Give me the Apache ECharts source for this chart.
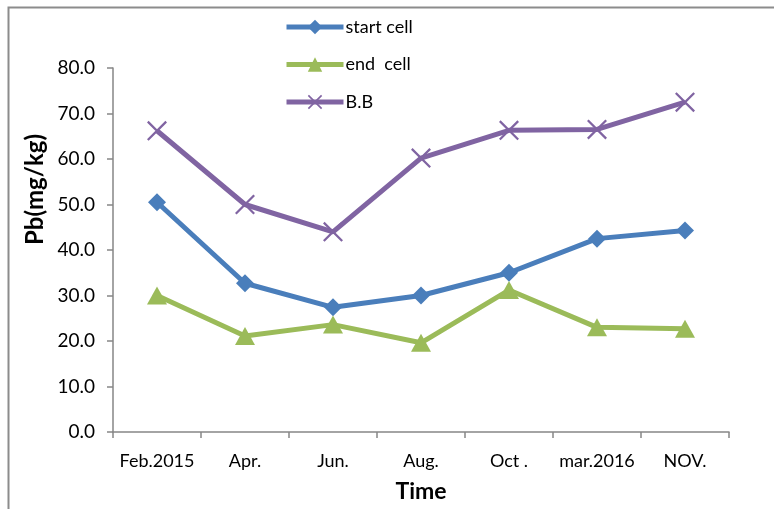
<!DOCTYPE html>
<html>
<head>
<meta charset="utf-8">
<script src="https://cdn.jsdelivr.net/npm/echarts@6/dist/echarts.min.js"></script>
<style>
  html, body { margin: 0; padding: 0; background: #fff; overflow: hidden; }
  #chart { width: 774px; height: 509px; }
</style>
</head>
<body>
<div id="chart"></div>
<script>
// Sampling months
const months = ['Feb.2015', 'Apr.', 'Jun.', 'Aug.', 'Oct .', 'mar.2016', 'NOV.'];

// Pb concentration (mg/kg) per sampling point
const startCell = [50.5, 32.7, 27.4, 30.0, 35.0, 42.5, 44.3];
const endCell   = [30.0, 21.1, 23.6, 19.6, 31.2, 23.0, 22.7];
const bb        = [66.2, 50.0, 44.0, 60.2, 66.3, 66.5, 72.5];

// Y axis range
const yMin = 0, yMax = 80, yStep = 10;

const FONT = 'Lato';
const AXIS_GREY = '#868686';

// Thin "x" cross marker
const crossPath = 'path://M0,0.8L0.8,0L10,9.2L9.2,10Z M9.2,0L10,0.8L0.8,10L0,9.2Z';

const chart = echarts.init(document.getElementById('chart'), null, { renderer: 'canvas' });

chart.setOption({
  animation: false,
  backgroundColor: '#ffffff',
  grid: {
    left: 113, right: 45, top: 68, bottom: 77,
    containLabel: false,
    outerBoundsMode: 'none'
  },
  legend: {
    orient: 'vertical',
    left: 284,
    top: 18,
    padding: 0,
    itemGap: 19.5,
    itemWidth: 57,
    itemHeight: 18,
    lineStyle: { width: 5 },
    textStyle: { fontFamily: FONT, fontSize: 18, color: '#000', padding: [0, 0, 0, -3] },
    data: ['start cell', 'end  cell', 'B.B']
  },
  xAxis: {
    type: 'category',
    data: months,
    boundaryGap: true,
    axisLine: { lineStyle: { color: AXIS_GREY, width: 1.5 } },
    axisTick: { show: true, length: 6, interval: 0, lineStyle: { color: AXIS_GREY, width: 1.5 } },
    axisLabel: { fontFamily: FONT, fontSize: 18, color: '#000', margin: 20, interval: 0 },
    splitLine: { show: false },
    name: 'Time',
    nameLocation: 'middle',
    nameGap: 48,
    nameTextStyle: { fontFamily: FONT, fontSize: 23, fontWeight: 'bold', color: '#000' }
  },
  yAxis: {
    type: 'value',
    min: yMin,
    max: yMax,
    interval: yStep,
    axisLine: { show: true, lineStyle: { color: AXIS_GREY, width: 1.5 } },
    axisTick: { show: true, length: 6, lineStyle: { color: AXIS_GREY, width: 1.5 } },
    axisLabel: {
      fontFamily: FONT, fontSize: 19, color: '#000', margin: 18,
      formatter: v => v.toFixed(1)
    },
    splitLine: { show: false }
  },
  series: [
    {
      name: 'start cell',
      type: 'line',
      data: startCell,
      symbol: 'diamond',
      symbolSize: 18,
      lineStyle: { width: 5, color: '#4A7EBB' },
      itemStyle: { color: '#4A7EBB' }
    },
    {
      name: 'end  cell',
      type: 'line',
      data: endCell,
      symbol: 'triangle',
      symbolSize: [20, 18],
      lineStyle: { width: 5, color: '#9BBB59' },
      itemStyle: { color: '#9BBB59' }
    },
    {
      name: 'B.B',
      type: 'line',
      data: bb,
      symbol: crossPath,
      symbolSize: 20,
      lineStyle: { width: 5, color: '#8064A2' },
      itemStyle: { color: '#8064A2' }
    }
  ],
  graphic: [
    {
      type: 'rect',
      silent: true,
      shape: { x: 8.5, y: 7.5, width: 820, height: 560 },
      style: { fill: 'none', stroke: '#8c8c8c', lineWidth: 2 }
    },
    {
      type: 'text',
      left: 23,
      top: 134,
      rotation: Math.PI / 2,
      style: {
        text: 'Pb(mg/kg)',
        fontFamily: FONT,
        fontSize: 24,
        fontWeight: 'bold',
        fill: '#000'
      }
    }
  ]
});
</script>
</body>
</html>
